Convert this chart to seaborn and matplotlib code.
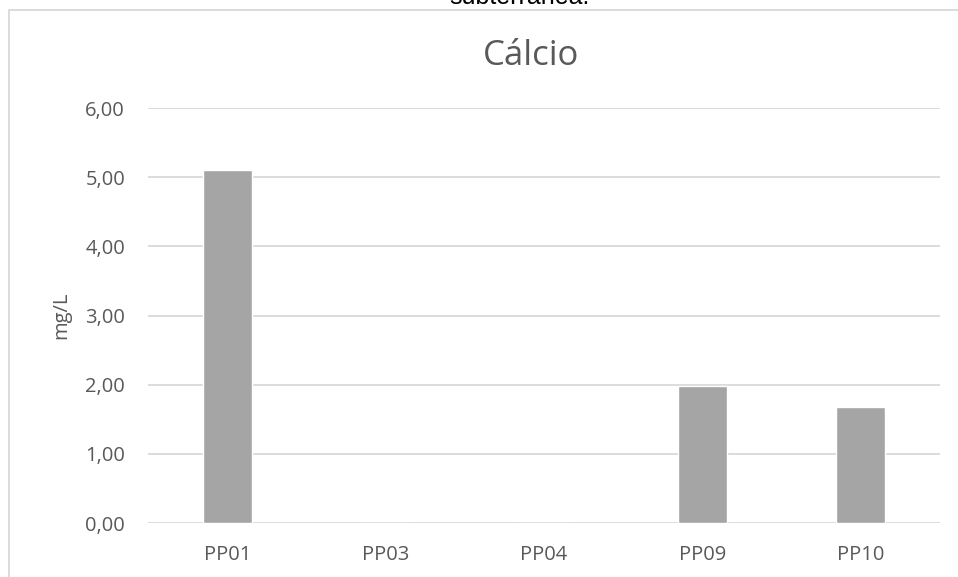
import matplotlib
matplotlib.use("Agg")
import matplotlib.pyplot as plt
from matplotlib.patches import Rectangle
import seaborn as sns
import pandas as pd

pontos = ["PP01", "PP03", "PP04", "PP09", "PP10"]
calcio = [5.10, 0.0, 0.0, 1.98, 1.67]
yticks = [0, 1, 2, 3, 4, 5, 6]

sns.set_theme(style="white")
plt.rcParams["font.family"] = ["Open Sans", "DejaVu Sans"]

W, H = 958, 577
fig = plt.figure(figsize=(W / 100, H / 100), dpi=100)

# chart frame
fig.patches.append(Rectangle((9 / W, -0.1), 1.2, (H - 9.5) / H + 0.1,
                             transform=fig.transFigure, fill=False,
                             edgecolor="#d9d9d9", linewidth=1.3))

# caption line above the chart
fig.text(519 / W, 1 - 4 / H, "subterrânea.", ha="center", va="baseline",
         fontsize=18, color="black", family=["Liberation Sans"])

left, right = 148 / W, 940 / W
bottom, top = 1 - 523 / H, 1 - 108 / H
ax = fig.add_axes([left, bottom, right - left, top - bottom])

df = pd.DataFrame({"ponto": pontos, "calcio": calcio})
sns.barplot(data=df, x="ponto", y="calcio", color="#a5a5a5", saturation=1,
            width=0.31, ax=ax, zorder=3)

ax.set_ylim(0, 6)
ax.set_xlim(-0.5, len(pontos) - 0.5)
ax.set_yticks(yticks)
ax.set_yticklabels([f"{v:.2f}".replace(".", ",") for v in yticks])
ax.yaxis.grid(True, color="#d9d9d9", linewidth=1.3, zorder=0)
ax.set_axisbelow(True)
for s in ax.spines.values():
    s.set_visible(False)
ax.tick_params(axis="both", length=0, labelsize=14.5, labelcolor="#595959")
ax.tick_params(axis="y", pad=16.5)
ax.tick_params(axis="x", pad=16)
ax.set_xlabel("")
ax.set_ylabel("mg/L", fontsize=14.5, color="#595959", labelpad=10)

fig.text(531 / W, 1 - 56 / H, "Cálcio", ha="center", va="center",
         fontsize=25, color="#595959")

fig.savefig("out.png", dpi=100)
